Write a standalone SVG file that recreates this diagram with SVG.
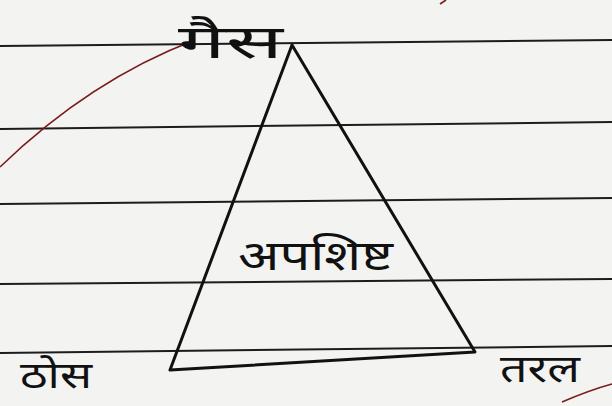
<svg xmlns="http://www.w3.org/2000/svg" width="612" height="406" viewBox="0 0 612 406">
<style>
.rule{stroke:#1c1c1c;stroke-width:2;fill:none}
.ink{stroke:#111;stroke-width:3;fill:none;stroke-linejoin:round;stroke-linecap:round}
.red{stroke:#7a1a1a;stroke-width:1.6;fill:none}
.lbl{font-family:"Noto Sans","Noto Sans CJK SC",sans-serif;fill:#111}
</style>
<rect width="612" height="406" fill="#f3f3f1"/>
<g id="rules">
<path class="rule" d="M0 46 L612 40"/>
<path class="rule" d="M0 129 L612 122"/>
<path class="rule" d="M0 204 L612 198"/>
<path class="rule" d="M0 284 L612 279"/>
<path class="rule" d="M0 353 L612 346"/>
</g>
<g id="margin">
<path class="red" d="M0 167 Q90 80 195 40"/>
<path class="red" d="M562 402 Q590 390 612 384"/>
<path class="red" d="M440 4 L446 0"/>
</g>
<g id="connectors">
<path class="ink" d="M292 45 L170 370 L475 352 Z"/>
</g>
<g id="gas"><text class="lbl" x="178" y="58" font-size="46" textLength="105" lengthAdjust="spacingAndGlyphs">गैस</text></g>
<g id="waste"><text class="lbl" x="238" y="270" font-size="42" textLength="155" lengthAdjust="spacingAndGlyphs">अपशिष्ट</text></g>
<g id="solid"><text class="lbl" x="20" y="388" font-size="36" textLength="72" lengthAdjust="spacingAndGlyphs">ठोस</text></g>
<g id="liquid"><text class="lbl" x="500" y="382" font-size="38" textLength="80" lengthAdjust="spacingAndGlyphs">तरल</text></g>
</svg>
